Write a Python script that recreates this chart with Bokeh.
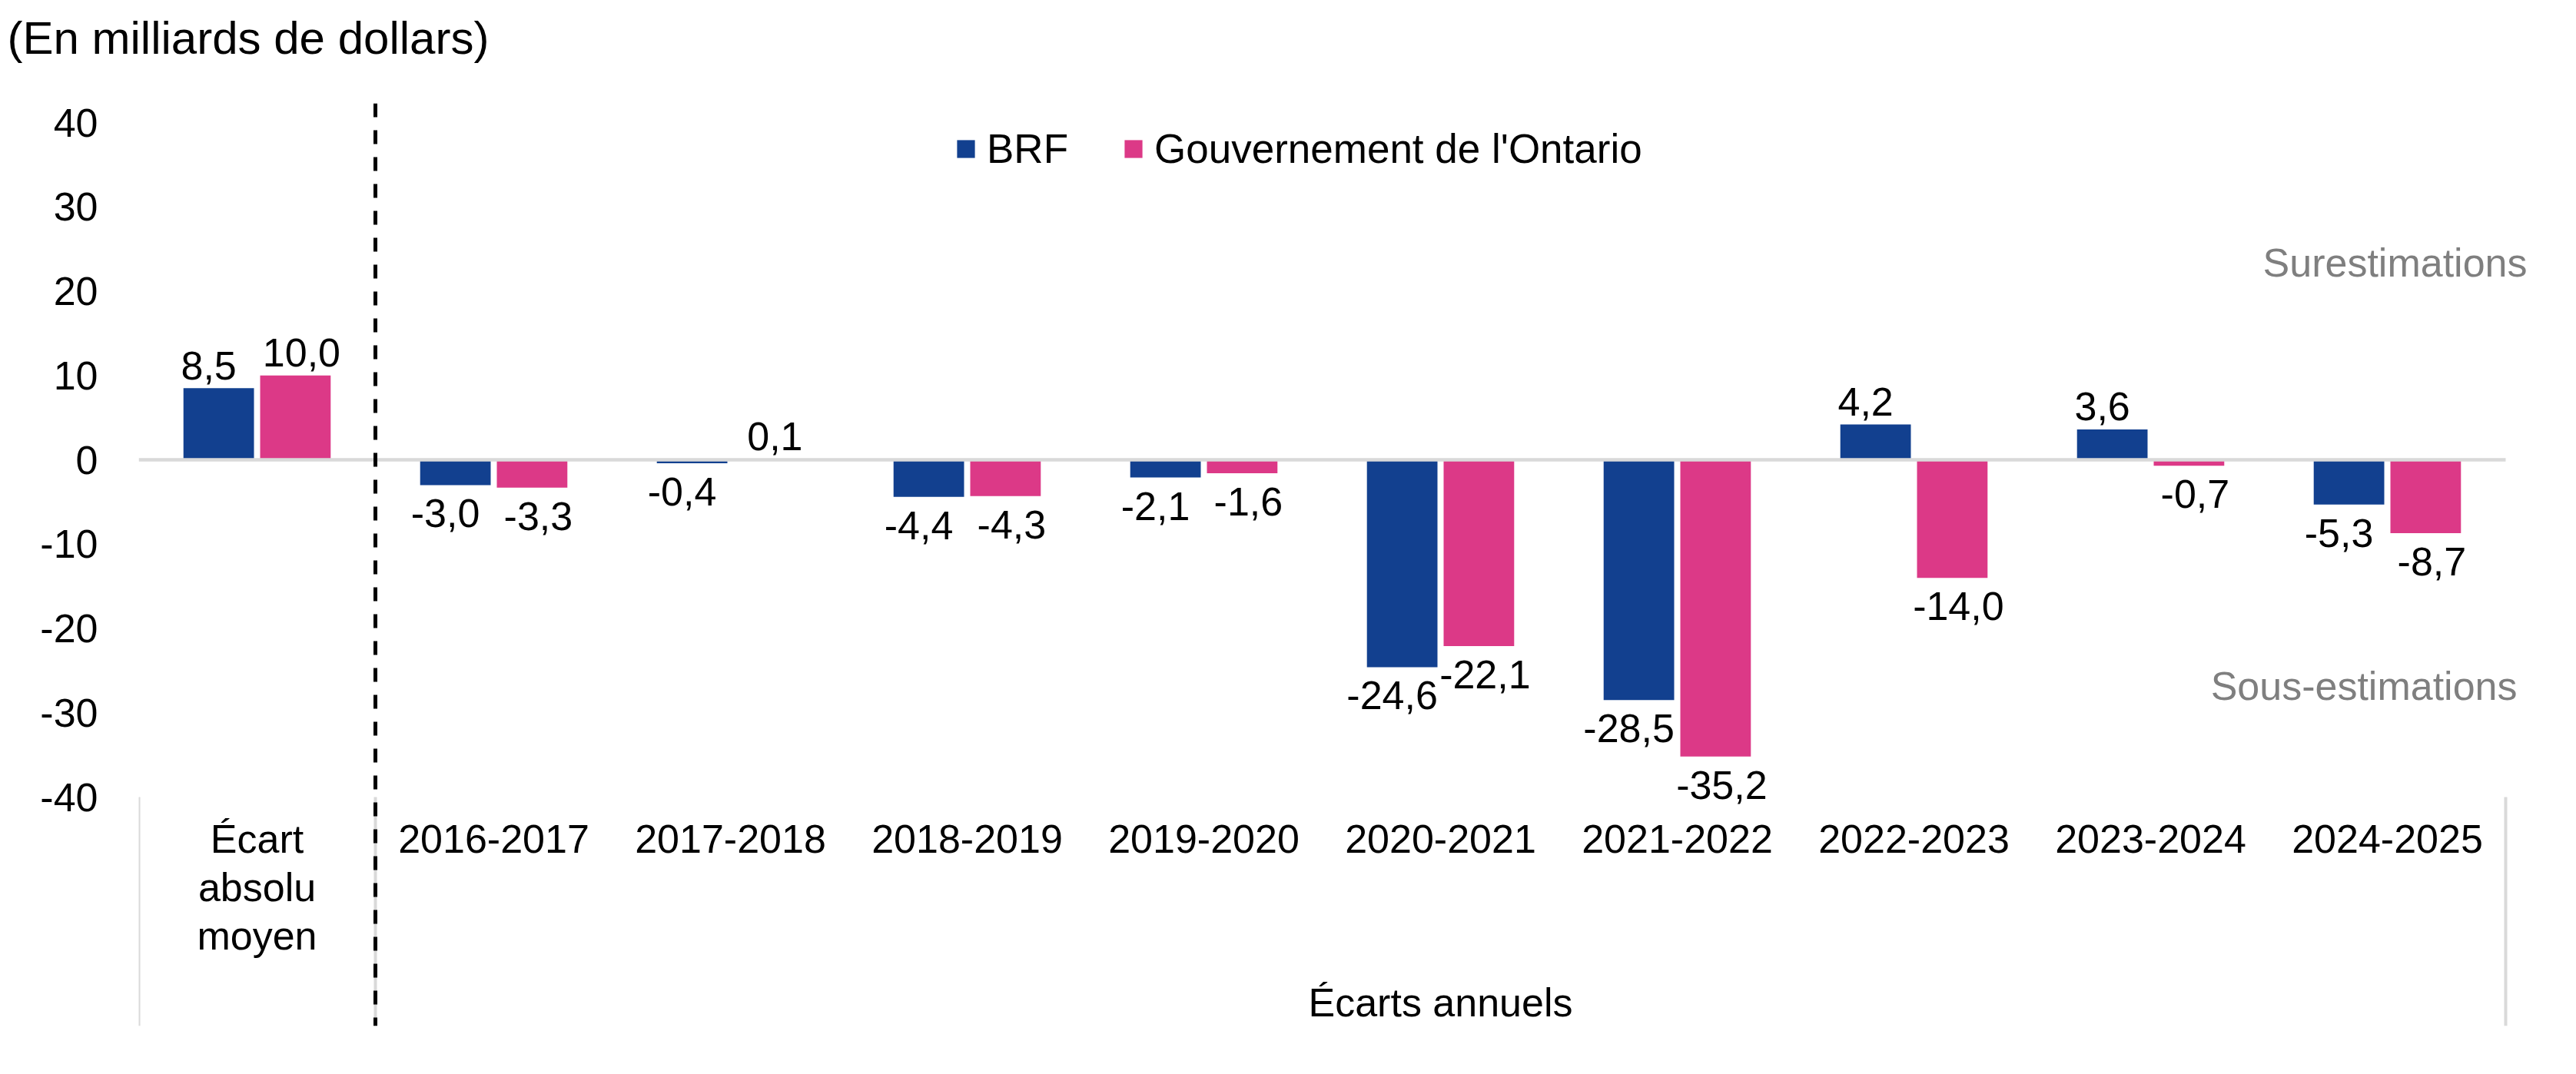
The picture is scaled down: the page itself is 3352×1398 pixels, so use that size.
from bokeh.plotting import figure
from bokeh.models import (ColumnDataSource, FixedTicker, Span, Label, Title,
                          Legend, LegendItem, Range1d)
from bokeh.transform import dodge
from bokeh.embed import file_html
from bokeh.resources import INLINE
from bokeh.core.properties import value

# ---------------- data ----------------
categories = ["Écart\nabsolu\nmoyen", "2016-2017", "2017-2018", "2018-2019", "2019-2020",
              "2020-2021", "2021-2022", "2022-2023", "2023-2024", "2024-2025"]
brf = [8.5, -3.0, -0.4, -4.4, -2.1, -24.6, -28.5, 4.2, 3.6, -5.3]
ontario = [10.0, -3.3, 0.1, -4.3, -1.6, -22.1, -35.2, -14.0, -0.7, -8.7]
series_names = ["BRF", "Gouvernement de l'Ontario"]
y_ticks = [-40, -30, -20, -10, 0, 10, 20, 30, 40]
title_text = "(En milliards de dollars)"
group_label = "Écarts annuels"
over_label = "Surestimations"
under_label = "Sous-estimations"

# ---------------- style / layout ----------------
FONT = "Liberation Sans"
BLUE = "#12408f"
PINK = "#dc3987"
GRID_GRAY = "#d9d9d9"
TEXT_GRAY = "#7f7f7f"
FS = "52px"
BASE_FIX = 13          # alphabetic baseline correction (px)

n = len(categories)
W, H = 3336, 1380
FL, FT, FB = 180, 134, 1335      # frame edges (figure px)
CAT_PX = 308.0                   # pixels per category
FR = W - 16
Y40_PX, YM40_PX = 159, 1037      # pixel rows of +40 and -40
PPU = (YM40_PX - Y40_PX) / 80.0  # pixels per unit


def y_of_px(py):
    return 40 - (py - Y40_PX) / PPU


y_top = y_of_px(FT)
y_bot = y_of_px(FB)
x_end = (FR - FL) / CAT_PX

p = figure(width=W, height=H,
           x_range=Range1d(0, x_end),
           y_range=Range1d(y_bot, y_top),
           x_axis_location=None,
           output_backend="svg", toolbar_location=None,
           min_border_left=FL, min_border_right=W - FR,
           min_border_top=FT, min_border_bottom=H - FB)
p.outline_line_color = None
p.grid.visible = False
p.background_fill_color = "white"
p.title.text = ""

# spacer between frame and the units title
p.add_layout(Title(text=" ", text_font_size="10px", standoff=24), "above")
# title (units label)
p.add_layout(Title(text=title_text, align="left", vertical_align="top",
                   offset=9 - FL, standoff=26, text_font=FONT,
                   text_font_size="60px", text_font_style="normal",
                   text_color="black"), "above")

# y axis
ax = p.yaxis[0]
ax.ticker = FixedTicker(ticks=y_ticks)
ax.major_label_overrides = {t: str(t) for t in y_ticks}
ax.axis_line_color = None
ax.major_tick_line_color = None
ax.minor_tick_line_color = None
ax.major_tick_out = 0
ax.major_label_standoff = 53
ax.major_label_text_font = FONT
ax.major_label_text_font_size = FS
ax.major_label_text_color = "black"

# bars
BAR_OFF = 0.162
BAR_W = 0.298
xc = [i + 0.5 for i in range(n)]
src = ColumnDataSource(dict(xc=xc, cat=categories, brf=brf, ont=ontario))
r1 = p.vbar(x=dodge("xc", -BAR_OFF), top="brf", width=BAR_W,
            source=src, fill_color=BLUE, line_color=None)
r2 = p.vbar(x=dodge("xc", BAR_OFF), top="ont", width=BAR_W,
            source=src, fill_color=PINK, line_color=None)

# zero line
p.segment(x0=[0], x1=[n], y0=[0], y1=[0], line_color=GRID_GRAY, line_width=4.7)


def fmt(v):
    return f"{v:.1f}".replace(".", ",")


def label_source(vals, shift):
    return ColumnDataSource(dict(
        xc=xc, val=vals, label=[fmt(v) for v in vals],
        xoff=[shift for v in vals],
        yoff=[(50 if v < 0 else -16.5) - BASE_FIX for v in vals]))


for vals, off, shift in ((brf, -BAR_OFF, -13), (ontario, BAR_OFF, 8)):
    p.text(x=dodge("xc", off), y="val", text="label",
           x_offset="xoff", y_offset="yoff", source=label_source(vals, shift),
           text_align="center", text_baseline="alphabetic",
           text_font=value(FONT), text_font_size=FS, text_color="black")

# category labels (multi-line)
cx, cy, ct = [], [], []
base_y = y_of_px(1104 - BASE_FIX)
line_step = 63 / PPU
for i, c in enumerate(categories):
    for j, line in enumerate(c.split("\n")):
        cx.append(xc[i])
        cy.append(base_y - j * line_step)
        ct.append(line)
p.text(x=cx, y=cy, text=ct, text_align="center", text_baseline="alphabetic",
       text_font=value(FONT), text_font_size=FS, text_color="black")

# group label under the annual categories
p.text(x=[(1 + n) / 2], y=[y_of_px(1317 - BASE_FIX)], text=[group_label],
       text_align="center", text_baseline="alphabetic",
       text_font=value(FONT), text_font_size=FS, text_color="black")

# separators below the plot
p.segment(x0=[0, 1, n], x1=[0, 1, n], y0=-40, y1=y_bot,
          line_color=GRID_GRAY, line_width=4)

# dashed divider
p.add_layout(Span(location=1, dimension="height", line_color="black",
                  line_width=5, line_dash="18 17"))

# over / under annotations
p.add_layout(Label(x=n, y=y_of_px(354 - BASE_FIX), x_offset=28, text=over_label,
                   text_align="right", text_baseline="alphabetic",
                   text_font=FONT, text_font_size=FS, text_color=TEXT_GRAY))
p.add_layout(Label(x=n, y=y_of_px(905 - BASE_FIX), x_offset=15, text=under_label,
                   text_align="right", text_baseline="alphabetic",
                   text_font=FONT, text_font_size=FS, text_color=TEXT_GRAY))

# legend
legend = Legend(items=[LegendItem(label=series_names[0], renderers=[r1]),
                       LegendItem(label=series_names[1], renderers=[r2])],
                orientation="horizontal", location=(1062, 1111),
                glyph_width=29, glyph_height=29, label_standoff=13, spacing=70,
                padding=0, margin=0, border_line_color=None,
                background_fill_alpha=0,
                label_text_font=FONT, label_text_font_size="53px",
                label_text_color="black")
p.add_layout(legend)

open("out.html", "w").write(file_html(p, INLINE))
